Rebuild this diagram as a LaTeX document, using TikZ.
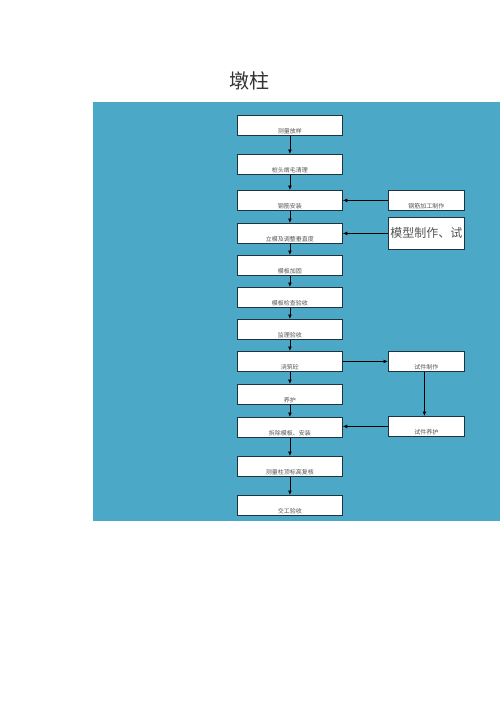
\documentclass[tikz,border=0pt]{standalone}
\usepackage{fontspec}
\newfontfamily\cjk{Noto Sans CJK SC}
\usetikzlibrary{arrows.meta}
\definecolor{bgblue}{HTML}{4BA9C7}
\definecolor{boxline}{HTML}{1E3440}
\definecolor{txtgray}{HTML}{555555}
\tikzset{
  mainbox/.style={draw=boxline, line width=0.8pt, fill=white, minimum width=105pt, minimum height=20pt, inner sep=0pt, anchor=north west},
  lbl/.style={font=\cjk\fontsize{6}{6}\selectfont, text=txtgray, inner sep=0pt},
  flow/.style={draw=black, line width=0.8pt, -{Latex[length=4.5pt,width=4pt]}}
}
\begin{document}
\begin{tikzpicture}[x=1pt,y=-1pt]
\useasboundingbox (0,0) rectangle (500,707);
\fill[white] (0,0) rectangle (500,707);
\fill[bgblue] (93,102) rectangle (500,521);
\node[font=\cjk\fontsize{20}{20}\selectfont, text=black!80] (title) at (249,81) {墩柱};
% main boxes
\node[mainbox] (b1) at (237,115) {};
\node[mainbox] (b2) at (237,154) {};
\node[mainbox] (b3) at (237,190) {};
\node[mainbox] (b4) at (237,223) {};
\node[mainbox] (b5) at (237,255) {};
\node[mainbox] (b6) at (237,287) {};
\node[mainbox] (b7) at (237,319) {};
\node[mainbox] (b8) at (237,351) {};
\node[mainbox] (b9) at (237,384) {};
\node[mainbox] (b10) at (237,417) {};
\node[mainbox] (b11) at (237,456) {};
\node[mainbox] (b12) at (237,495) {};
% side boxes
\node[mainbox, minimum width=76pt] (s1) at (388,190) {};
\node[mainbox, minimum width=76pt, minimum height=32pt] (s2) at (388,217) {};
\node[mainbox, minimum width=76pt] (s3) at (388,351) {};
\node[mainbox, minimum width=76pt] (s4) at (388,416) {};
% labels
\node[lbl] (t1) at ([yshift=5pt]b1.south) {测量放样};
\node[lbl] (t2) at ([yshift=5pt]b2.south) {桩头凿毛清理};
\node[lbl] (t3) at ([yshift=5pt]b3.south) {钢筋安装};
\node[lbl] (t4) at ([yshift=5pt]b4.south) {立模及调整垂直度};
\node[lbl] (t5) at ([yshift=5pt]b5.south) {模板加固};
\node[lbl] (t6) at ([yshift=5pt]b6.south) {模板检查验收};
\node[lbl] (t7) at ([yshift=5pt]b7.south) {监理验收};
\node[lbl] (t8) at ([yshift=5pt]b8.south) {浇筑砼};
\node[lbl] (t9) at ([yshift=5pt]b9.south) {养护};
\node[lbl] (t10) at ([yshift=5pt]b10.south) {拆除模板、安装};
\node[lbl] (t11) at ([yshift=5pt]b11.south) {测量柱顶标高复核};
\node[lbl] (t12) at ([yshift=5pt]b12.south) {交工验收};
\node[lbl] (u1) at ([yshift=5pt]s1.south) {钢筋加工制作};
\node[font=\cjk\fontsize{12}{12}\selectfont, text=txtgray, inner sep=0pt] (u2) at (s2.center) {模型制作、试};
\node[lbl] (u3) at ([yshift=5pt]s3.south) {试件制作};
\node[lbl] (u4) at ([yshift=5pt]s4.south) {试件养护};
% vertical flow
\foreach \a/\b in {b1/b2,b2/b3,b3/b4,b4/b5,b5/b6,b6/b7,b7/b8,b8/b9,b9/b10,b10/b11,b11/b12}
  \draw[flow] (\a.south) -- (\b.north);
% side connections
\draw[flow] (s1.west) -- (s1.west -| b3.east);
\draw[flow] (s2.west) -- (s2.west -| b4.east);
\draw[flow] (b8.east) -- (b8.east -| s3.west);
\draw[flow] ([xshift=-2pt]s3.south) -- ([xshift=-2pt]s4.north);
\draw[flow] (s4.west) -- (s4.west -| b10.east);
\end{tikzpicture}
\end{document}
